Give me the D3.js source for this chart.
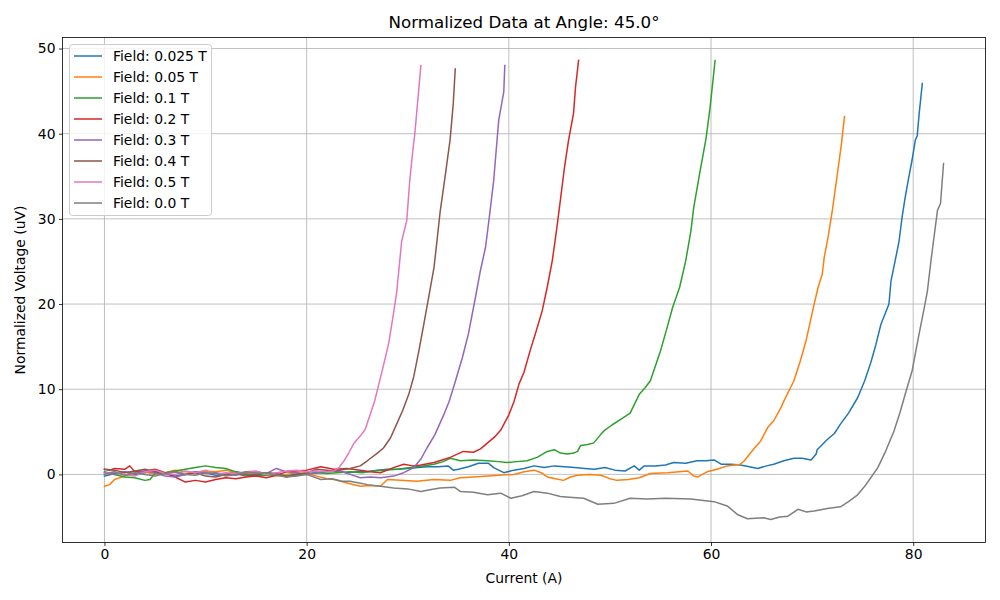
<!DOCTYPE html>
<html><head><meta charset="utf-8">
<script src="https://cdn.jsdelivr.net/npm/d3@7"></script>
<style>body{margin:0;background:#fff}svg{display:block;font-family:"DejaVu Sans",sans-serif}</style>
</head><body><svg id="c" width="1000" height="600"></svg>
<script>
const title = "Normalized Data at Angle: 45.0°";
const xLabel = "Current (A)";
const yLabel = "Normalized Voltage (uV)";
const fields = ["Field: 0.025 T","Field: 0.05 T","Field: 0.1 T","Field: 0.2 T","Field: 0.3 T","Field: 0.4 T","Field: 0.5 T","Field: 0.0 T"];
const colors = ["#1f77b4","#ff7f0e","#2ca02c","#d62728","#9467bd","#8c564b","#e377c2","#7f7f7f"];
const xTicks = [0,20,40,60,80];
const yTicks = [0,10,20,30,40,50];

const s025 = [[0,-0.2],[1,0.1],[2,0.3],[3,0.0],[4,0.2],[5,0.4],[6,0.1],[7,-0.2],[8,0.0],[9,0.3],[10,0.2],[11,-0.1],[12,0.0],[13,0.3],[14,0.1],[15,-0.1],[16,0.2],[17,0.0],[18,-0.2],[19,0.1],[20,0.0],[21,0.2],[22,0.3],[23,0.4],[24,0.2],[25,0.3],[26,0.3],[27,0.5],[28,0.6],[29,0.6],[30,0.7],[31,0.8],[32,0.9],[33,0.9],[34,1.0],[34.5,0.5],[35,0.6],[36,0.9],[37,1.3],[38,1.3],[38.5,0.8],[39.5,0.2],[40.5,0.5],[41.5,0.7],[42.5,1.0],[43.5,0.8],[44.5,1.0],[45.5,0.9],[46.5,0.8],[47.5,0.7],[48.5,0.6],[49.5,0.8],[50.5,0.5],[51.5,0.4],[52.4,1.0],[52.9,0.5],[53.4,1.0],[54.5,1.0],[55.5,1.1],[56.3,1.4],[57.5,1.3],[58.6,1.6],[59.5,1.6],[60.3,1.7],[61.0,1.2],[62,1.2],[62.9,1.1],[63.8,0.9],[64.6,0.7],[65.5,1.0],[66.2,1.2],[67.2,1.6],[68.2,1.9],[69,1.9],[69.9,1.7],[70.4,2.4],[70.5,2.9],[71.5,4.1],[72.2,4.8],[72.8,5.9],[73.6,7.2],[74.5,9.0],[75.2,11.0],[75.8,13.1],[76.3,15.2],[76.8,17.6],[77.6,20.0],[77.8,22.7],[78.2,25.0],[78.6,27.4],[78.9,30.2],[79.2,32.5],[79.5,34.5],[79.9,37.0],[80.2,39.2],[80.4,39.8],[80.6,42.5],[80.9,45.9]];
const s05 = [[0,-1.4],[0.5,-1.2],[1,-0.6],[2,-0.2],[3,0.1],[4,0.3],[5,0.0],[6,0.2],[7,0.5],[8,0.3],[9,0.2],[10,0.4],[11,0.3],[12,0.5],[13,0.2],[14,0.0],[15,0.3],[16,0.1],[17,-0.2],[18,0.0],[19,0.2],[20,0.1],[21,-0.2],[22,-0.5],[22.7,-0.6],[24,-1.0],[25.3,-1.4],[26.3,-1.3],[27.3,-1.4],[28,-0.6],[29.3,-0.7],[30.9,-0.8],[32.6,-0.6],[34.2,-0.7],[35.2,-0.4],[36.5,-0.3],[37.9,-0.2],[39,-0.1],[40.5,0.0],[41.5,0.3],[42.5,0.5],[43.2,0.2],[43.8,-0.3],[44.6,-0.5],[45.4,-0.7],[46.1,-0.3],[46.8,-0.1],[48,0.0],[49.1,-0.1],[50,-0.5],[50.7,-0.7],[51.8,-0.6],[52.9,-0.4],[54,0.1],[55.7,0.2],[57.7,0.4],[58.3,-0.2],[58.7,-0.3],[59.6,0.3],[60.6,0.6],[61.6,1.0],[62.9,1.2],[63.3,1.6],[64.3,3.1],[64.9,3.9],[65.6,5.5],[66.2,6.3],[66.9,7.8],[67.2,8.6],[68.2,11.0],[68.8,13.2],[69.4,15.7],[70.2,20.0],[70.6,22.0],[71.0,23.5],[71.2,25.5],[71.6,28.0],[72.0,31.0],[72.5,35.3],[72.9,38.8],[73.2,42.0]];
const s1 = [[0,0.3],[1,0.0],[2,-0.3],[3,-0.4],[4,-0.7],[4.5,-0.6],[5,0.1],[6,0.2],[7,0.4],[8,0.6],[9,0.8],[10,1.0],[11,0.8],[12,0.7],[13,0.3],[14,0.0],[15,-0.2],[16,-0.1],[17,0.0],[18,-0.2],[19,-0.1],[20,0.1],[21,0.2],[22,0.1],[23,0.2],[24.3,0.3],[25.5,0.2],[26.5,0.4],[27.6,0.5],[29,0.6],[30.3,0.8],[31.5,1.0],[32.6,1.2],[33.5,1.5],[34.2,1.9],[35.2,1.6],[36.5,1.7],[37.9,1.6],[39,1.5],[39.8,1.4],[40.8,1.5],[41.8,1.6],[42.8,2.0],[43.8,2.7],[44.5,2.9],[45.1,2.5],[45.8,2.4],[46.4,2.5],[46.8,2.7],[47.1,3.4],[47.8,3.5],[48.4,3.7],[49.1,4.7],[49.4,5.1],[50.2,5.8],[51.1,6.5],[52.0,7.2],[52.9,9.4],[53.5,10.2],[54.0,11.0],[55.0,14.5],[55.6,17.0],[56.2,19.6],[56.9,22.0],[57.5,25.1],[58.0,28.5],[58.3,31.4],[58.9,35.5],[59.5,39.4],[59.9,43.0],[60.4,48.6]];
const s2 = [[0,0.6],[0.5,0.5],[1,0.7],[2,0.6],[2.5,1.0],[3,0.3],[4,0.4],[5,0.6],[6,0.2],[7,-0.3],[8,-0.9],[9,-0.7],[10,-0.9],[11,-0.6],[12,-0.4],[13,-0.5],[14,-0.3],[15,-0.2],[16,-0.4],[17,-0.1],[18,0.3],[19,0.4],[20,0.5],[21.4,0.9],[22.7,0.6],[24,0.7],[25.3,0.5],[26.3,0.3],[27.3,0.2],[28.6,0.8],[29.6,1.2],[30.5,1.0],[31.3,1.1],[32.6,1.4],[33.4,1.7],[34.2,2.0],[35.5,2.7],[36.5,2.6],[37.2,3.0],[37.9,3.7],[38.6,4.4],[39.2,5.2],[40.0,7.0],[40.5,8.5],[41.0,10.6],[41.5,12.0],[42.1,14.5],[42.7,16.8],[43.3,19.2],[43.8,22.0],[44.3,25.1],[44.7,28.5],[45.1,32.2],[45.5,36.0],[45.9,39.2],[46.4,42.4],[46.6,45.5],[46.9,48.6]];
const s3 = [[0,0.2],[1,0.0],[2,0.3],[3,0.1],[4,0.4],[5,0.2],[6,-0.2],[7,-0.3],[8,0.0],[9,0.3],[10,0.1],[11,0.2],[12,0.0],[13,-0.1],[14,0.2],[15,0.3],[16,0.1],[17,0.7],[18,0.3],[19,0.2],[20,0.0],[21.5,0.3],[23.3,0.4],[24.3,0.0],[25.3,-0.4],[26.3,-0.3],[27.3,-0.4],[28.6,-0.2],[29.6,0.2],[30.6,0.8],[31.3,1.8],[31.9,3.1],[32.7,4.7],[33.6,7.1],[34.1,8.6],[34.6,10.5],[35.4,13.7],[36.0,16.5],[36.7,20.8],[37.2,24.0],[37.7,26.7],[38.1,30.5],[38.5,34.5],[39.0,41.6],[39.5,44.9],[39.6,48.0]];
const s4 = [[0,0.6],[1,0.5],[2,0.2],[3,0.4],[4,0.6],[5,0.3],[6,0.1],[7,0.3],[8,0.0],[9,0.2],[10,-0.2],[11,-0.3],[12,0.0],[13,0.1],[14,-0.2],[15,0.0],[16,0.2],[17,0.1],[18,-0.3],[19,0.0],[20,0.2],[21,0.6],[22.7,0.4],[24.3,0.7],[25.3,1.0],[26,1.6],[27,2.5],[27.6,3.1],[28.3,4.3],[28.9,5.9],[29.5,7.5],[30.1,9.4],[30.6,11.5],[31.1,14.5],[31.6,17.7],[32.1,21.0],[32.6,24.3],[32.9,27.5],[33.2,30.8],[33.7,35.0],[34.2,39.4],[34.5,43.5],[34.7,47.6]];
const s5 = [[0,0.1],[1,0.3],[2,0.0],[3,-0.2],[4,0.3],[5,0.5],[6,0.1],[7,0.0],[8,0.4],[9,0.2],[10,0.5],[11,0.0],[12,0.2],[13,0.1],[14,0.3],[15,0.4],[16,0.0],[17,0.2],[18,0.4],[19,0.5],[20,0.3],[21,0.4],[22,0.3],[22.7,0.4],[23.2,0.8],[23.7,1.6],[24.2,2.6],[24.7,3.7],[25.3,4.5],[25.8,5.3],[26.3,7.1],[26.7,8.5],[27.1,10.4],[27.6,12.8],[28.1,15.3],[28.5,18.2],[28.9,21.3],[29.4,27.4],[29.9,29.8],[30.2,34.5],[30.5,38.0],[30.7,40.0],[31.0,44.0],[31.3,48.0]];
const s0 = [[0,0.0],[1,0.3],[2,-0.1],[3,0.2],[4,0.0],[5,-0.2],[6,0.1],[7,0.3],[8,0.0],[9,-0.1],[10,0.2],[11,0.1],[12,-0.2],[13,0.0],[14,0.3],[15,0.1],[16,0.2],[17,-0.1],[18,-0.3],[19,-0.2],[20,0.0],[21.4,-0.6],[22.5,-0.5],[23.5,-0.8],[24.3,-0.8],[25.2,-1.0],[26.0,-1.2],[27.3,-1.4],[28.6,-1.6],[30,-1.7],[31.3,-2.0],[32.2,-1.8],[33.2,-1.6],[34.6,-1.5],[35.2,-2.0],[36.5,-2.1],[37.9,-2.4],[39.2,-2.2],[40.2,-2.8],[41.3,-2.5],[42.5,-2.0],[43.8,-2.2],[45.1,-2.6],[46.3,-2.7],[47.4,-2.8],[48.8,-3.5],[50.4,-3.4],[52.0,-2.8],[53.7,-2.9],[55.5,-2.8],[58.0,-2.9],[60.3,-3.2],[61.6,-3.7],[62.6,-4.7],[63.6,-5.2],[65.2,-5.1],[65.9,-5.3],[66.8,-5.0],[67.6,-4.9],[68.6,-4.1],[69.4,-4.4],[70.2,-4.3],[71.5,-4.0],[72.8,-3.8],[73.6,-3.2],[74.5,-2.4],[75.2,-1.4],[75.8,-0.4],[76.5,0.8],[77.3,2.8],[78.1,5.1],[78.7,7.3],[79.3,9.8],[79.9,12.2],[80.5,16.0],[81.1,19.6],[81.4,21.5],[81.8,25.5],[82.4,31.0],[82.7,31.8],[83.0,36.5]];
const seriesData = [s025, s05, s1, s2, s3, s4, s5, s0];

const svg = d3.select("#c");
const L = 62.5, R = 985.5, T = 37.5, B = 542.5;
const all = seriesData.flat();
const xe = d3.extent(all, d => d[0]), ye = d3.extent(all, d => d[1]);
const xm = (xe[1]-xe[0])*0.05, ym = (ye[1]-ye[0])*0.05;
const x = d3.scaleLinear().domain([xe[0]-xm, xe[1]+xm]).range([L, R]);
const y = d3.scaleLinear().domain([ye[0]-ym, ye[1]+ym]).range([B, T]);

const g = svg.append("g");
// grid
g.selectAll(".gx").data(xTicks).join("line").attr("x1", d=>x(d)).attr("x2", d=>x(d)).attr("y1", T).attr("y2", B).attr("stroke", "#b0b0b0").attr("stroke-width", 0.8);
g.selectAll(".gy").data(yTicks).join("line").attr("y1", d=>y(d)).attr("y2", d=>y(d)).attr("x1", L).attr("x2", R).attr("stroke", "#b0b0b0").attr("stroke-width", 0.8);

const clip = svg.append("clipPath").attr("id","cp").append("rect").attr("x",L).attr("y",T).attr("width",R-L).attr("height",B-T);
const line = d3.line().x(d=>x(d[0])).y(d=>y(d[1]));
svg.append("g").attr("clip-path","url(#cp)").selectAll("path").data(seriesData).join("path")
  .attr("d", line).attr("fill","none").attr("stroke",(d,i)=>colors[i]).attr("stroke-width",1.5).attr("stroke-linejoin","round").attr("stroke-linecap","square");

// axes
const xa = svg.append("g").attr("transform",`translate(0,${B})`).call(d3.axisBottom(x).tickValues(xTicks).tickSize(3.5).tickPadding(3.5).tickFormat(d3.format("d")));
const ya = svg.append("g").attr("transform",`translate(${L},0)`).call(d3.axisLeft(y).tickValues(yTicks).tickSize(3.5).tickPadding(3.5).tickFormat(d3.format("d")));
[xa, ya].forEach(a => { a.select(".domain").remove(); a.selectAll("line").attr("stroke","#000").attr("stroke-width",0.8); a.selectAll("text").attr("font-size","13.9px").attr("font-family","DejaVu Sans").attr("fill","#000"); });
svg.append("rect").attr("x",L).attr("y",T).attr("width",R-L).attr("height",B-T).attr("fill","none").attr("stroke","#000").attr("stroke-width",0.8);

svg.append("text").attr("x",(L+R)/2).attr("y",28).attr("text-anchor","middle").attr("font-size","16.7px").text(title);
svg.append("text").attr("x",(L+R)/2).attr("y",583).attr("text-anchor","middle").attr("font-size","13.9px").text(xLabel);
svg.append("text").attr("transform",`translate(25,${(T+B)/2}) rotate(-90)`).attr("text-anchor","middle").attr("font-size","13.9px").text(yLabel);

// legend
const lg = svg.append("g");
lg.append("rect").attr("x",69.5).attr("y",44.5).attr("width",142).attr("height",171).attr("rx",3).attr("fill","#fff").attr("fill-opacity",0.8).attr("stroke","#cccccc").attr("stroke-width",1);
const items = lg.selectAll(".it").data(fields).join("g").attr("transform",(d,i)=>`translate(0,${56+i*21})`);
items.append("line").attr("x1",74).attr("x2",102).attr("stroke",(d,i)=>colors[i]).attr("stroke-width",1.5);
items.append("text").attr("x",113).attr("y",5).attr("font-size","13.9px").text(d=>d);
</script></body></html>
